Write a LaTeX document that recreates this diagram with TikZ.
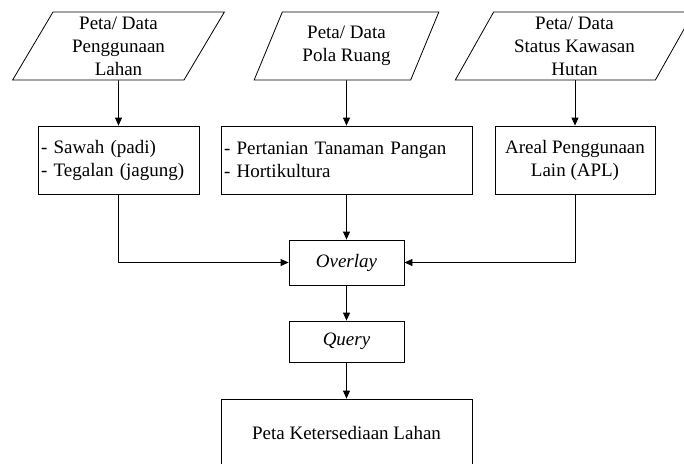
\documentclass[tikz,border=0pt]{standalone}
\usepackage{fontspec}
\setmainfont{Liberation Serif}
\usetikzlibrary{arrows.meta,
                shapes.geometric}

\begin{document}
\begin{tikzpicture}[x=1pt, y=-1pt,
every node/.style = {font=\fontsize{19}{23}\selectfont, line width=0.8pt},
datain/.style = {draw, trapezium, trapezium left angle=64,
                 trapezium right angle=116, trapezium stretches=true,
                 minimum height=68pt, inner sep=0pt, align=center},
kelas/.style = {draw, minimum height=68pt, inner sep=3pt, align=left},
proses/.style = {draw, minimum width=115pt, inner sep=3pt,
                 font=\fontsize{19}{23}\selectfont\itshape},
panah/.style = {draw, line width=0.8pt, -{Triangle[length=8pt, width=7pt]}}
                    ]
\clip (0,0) rectangle (684,463);
% data masukan
\node[datain, minimum width=212pt] (peta1) at (118.5,46)
        {Peta/ Data\\Penggunaan\\Lahan};
\node[datain, minimum width=185pt] (peta2) at (346.5,46)
        {Peta/ Data\\Pola Ruang};
\node[datain, minimum width=239pt] (peta3) at (574.5,46)
        {Peta/ Data\\Status Kawasan\\Hutan};
%
\node[kelas, text width=155pt] (kls1) at (118.5,160)
        {- Sawah (padi)\\- Tegalan (jagung)};
\node[kelas, text width=245pt] (kls2) at (346.5,160)
        {- Pertanian Tanaman Pangan\\- Hortikultura};
\node[kelas, minimum width=160pt, align=center] (kls3) at (575,160)
        {Areal Penggunaan\\Lain (APL)};
%
\node[proses, minimum height=45pt] (overlay) at (346.5,262.5) {Overlay};
\node[proses, minimum height=41pt] (query) at (346.5,341.5) {Query};
\node[kelas, minimum width=251pt, align=center] (hasil) at (346.5,433)
        {Peta Ketersediaan Lahan};
%
\path[panah] (peta1) -- (kls1);
\path[panah] (peta2) -- (kls2);
\path[panah] (peta3.south -| kls3) -- (kls3);
\path[panah] (kls2) -- (overlay);
\path[panah] (kls1.south) |- (overlay.west);
\path[panah] (kls3.south) |- (overlay.east);
\path[panah] (overlay) -- (query);
\path[panah] (query) -- (hasil);
\end{tikzpicture}
\end{document}
